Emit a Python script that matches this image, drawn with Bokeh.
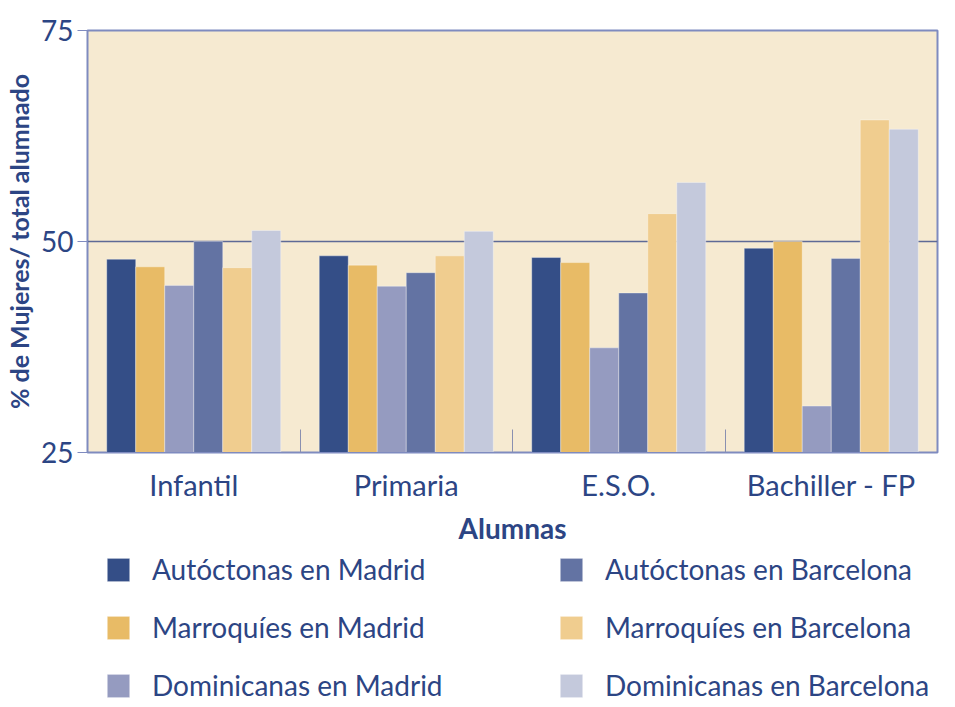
from bokeh.plotting import figure
from bokeh.layouts import column
from bokeh.models import (ColumnDataSource, FixedTicker, Legend, LegendItem, Range1d)
from bokeh.transform import dodge
from bokeh.embed import file_html
from bokeh.resources import INLINE

# ---- data ----
levels = ["Infantil", "Primaria", "E.S.O.", "Bachiller - FP"]
series = ["Autóctonas en Madrid", "Marroquíes en Madrid", "Dominicanas en Madrid",
          "Autóctonas en Barcelona", "Marroquíes en Barcelona", "Dominicanas en Barcelona"]
autoctonas_madrid = [47.9, 48.3, 48.1, 49.2]
marroquies_madrid = [47.0, 47.2, 47.5, 50.0]
dominicanas_madrid = [44.8, 44.7, 37.4, 30.5]
autoctonas_barcelona = [50.0, 46.3, 43.9, 48.0]
marroquies_barcelona = [46.9, 48.3, 53.3, 64.4]
dominicanas_barcelona = [51.3, 51.2, 57.0, 63.3]
y_ticks = [25, 50, 75]
y_base = 25

values = [autoctonas_madrid, marroquies_madrid, dominicanas_madrid,
          autoctonas_barcelona, marroquies_barcelona, dominicanas_barcelona]
colors = ["#344E87", "#E8BB66", "#959BC0", "#6373A3", "#F0CD8F", "#C4C9DC"]

TEXT = "#2C4584"
FRAME = "#7F8BBF"
FONT = "Lato"
W = 952

src = ColumnDataSource(dict(x=list(range(len(levels))),
                            **{f"s{k}": v for k, v in enumerate(values)}))

p = figure(width=W, height=550, output_backend="svg", toolbar_location=None,
           x_range=Range1d(-0.5, len(levels) - 0.5), y_range=Range1d(25, 75),
           min_border_left=87, min_border_right=15, min_border_top=30,
           min_border_bottom=98)
p.background_fill_color = "#F6EAD1"
p.border_fill_color = "white"
p.outline_line_color = FRAME
p.outline_line_width = 2

bw = 0.1365
for k, name in enumerate(series):
    p.vbar(x=dodge("x", (k - 2.5) * bw, range=p.x_range), top=f"s{k}", bottom=y_base,
           width=bw, source=src, fill_color=colors[k], line_color="white",
           line_alpha=0.35, line_width=1)

# grid
p.xgrid.visible = False
p.ygrid.ticker = FixedTicker(ticks=[50])
p.ygrid.grid_line_color = "#5E6A96"
p.ygrid.grid_line_width = 1.5

# y axis
ya = p.yaxis[0]
ya.ticker = FixedTicker(ticks=y_ticks)
ya.major_tick_in = 0
ya.major_tick_out = 10
ya.minor_tick_line_color = None
ya.major_tick_line_color = FRAME
ya.axis_line_color = FRAME
ya.major_label_text_font = FONT
ya.major_label_text_font_size = "28px"
ya.major_label_text_color = TEXT
ya.major_label_standoff = 4
ya.axis_label = "% de Mujeres/ total alumnado"
ya.axis_label_text_font = FONT
ya.axis_label_text_font_size = "25px"
ya.axis_label_text_font_style = "bold"
ya.axis_label_text_color = TEXT
ya.axis_label_standoff = 4

# x axis
xa = p.xaxis[0]
xa.ticker = FixedTicker(ticks=list(range(len(levels))),
                        minor_ticks=[i + 0.5 for i in range(len(levels) - 1)])
xa.major_label_overrides = {i: lab for i, lab in enumerate(levels)}
xa.major_tick_in = 0
xa.major_tick_out = 0
xa.minor_tick_in = 23
xa.minor_tick_out = 0
xa.minor_tick_line_color = "#8A90B0"
xa.axis_line_color = FRAME
xa.major_label_text_font = FONT
xa.major_label_text_font_size = "29px"
xa.major_label_text_color = TEXT
xa.major_label_standoff = 14
xa.axis_label = "Alumnas"
xa.axis_label_text_font = FONT
xa.axis_label_text_font_size = "28px"
xa.axis_label_text_font_style = "bold"
xa.axis_label_text_color = TEXT
xa.axis_label_standoff = 6

# ---- legend panel (key swatches sit outside the visible range) ----
LH = 155
q = figure(width=W, height=LH, output_backend="svg", toolbar_location=None,
           x_range=Range1d(0, 1), y_range=Range1d(0, 1),
           min_border_left=0, min_border_right=0, min_border_top=0, min_border_bottom=0)
q.axis.visible = False
q.grid.visible = False
q.outline_line_color = None
q.background_fill_color = "white"
keys = []
for k, name in enumerate(series):
    keys.append(q.vbar(x=[-5], top=[-5], bottom=[-6], width=0.1, fill_color=colors[k],
                       line_color="white", line_alpha=0.35))

common = dict(margin=0, padding=0, glyph_width=28, glyph_height=29, label_standoff=20,
              spacing=24, border_line_alpha=0, background_fill_alpha=0,
              label_text_font=FONT, label_text_font_size="28px", label_text_color=TEXT)
leg1 = Legend(items=[LegendItem(label=series[k], renderers=[keys[k]]) for k in range(3)],
              location=(17, 3), **common)
leg2 = Legend(items=[LegendItem(label=series[k], renderers=[keys[k]]) for k in range(3, 6)],
              location=(470, 3), **common)
q.add_layout(leg1, "center")
q.add_layout(leg2, "center")

open("out.html", "w").write(file_html(column(p, q, spacing=0), INLINE))
